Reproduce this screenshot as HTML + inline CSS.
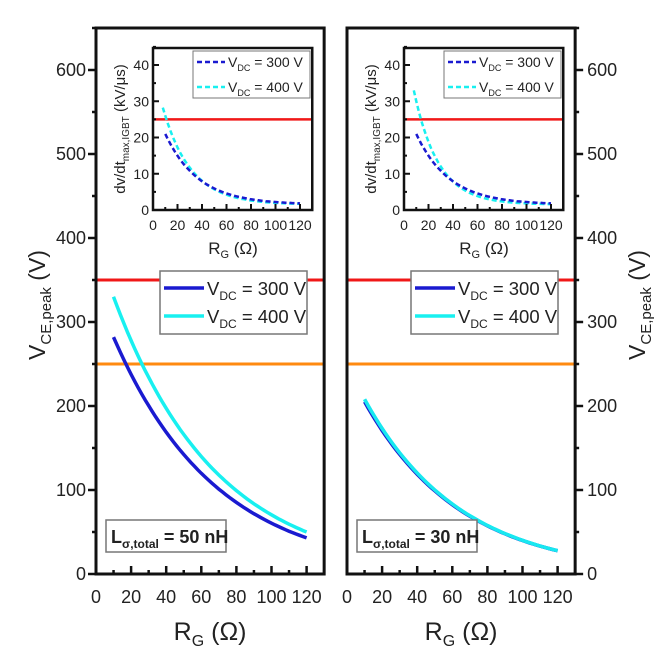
<!DOCTYPE html>
<html><head><meta charset="utf-8"><style>body{margin:0;background:#fff}svg{display:block}text{font-family:"Liberation Sans",sans-serif;fill:#222}</style></head><body>
<svg id="s" width="666" height="655" xmlns="http://www.w3.org/2000/svg"></svg>
<script>
const S=document.getElementById('s');let h='';
function line(x1,y1,x2,y2,c,w,d){h+=`<line x1="${x1}" y1="${y1}" x2="${x2}" y2="${y2}" stroke="${c}" stroke-width="${w}" ${d?`stroke-dasharray="${d}"`:''}/>`;}
function txt(x,y,s,sz,a,extra){h+=`<text x="${x}" y="${y}" font-size="${sz}" text-anchor="${a||'middle'}" ${extra||''}>${s}</text>`;}
function panel(x0,rightAxis,c3,c4,lab){
 const X=v=>x0+v*1.755, Y=v=>574-v*0.84, x1=X(130);
 line(x0,Y(350),x1,Y(350),'#f01818',3);line(x0,Y(250),x1,Y(250),'#ff8a10',3);
 const cur=(f,c)=>{let p='';for(let v=10;v<=120;v+=2)p+=(v==10?'M':'L')+X(v).toFixed(1)+','+Y(f(v)).toFixed(1);h+=`<path d="${p}" fill="none" stroke="${c}" stroke-width="3.5"/>`;};
 cur(c4,'#18f0f0');cur(c3,'#1a1ad0');
 if(lab=='30')cur(c4,'#18e8f0');
 h+=`<rect x="${x0}" y="28" width="${x1-x0}" height="546" fill="none" stroke="#111" stroke-width="3"/>`;
 for(let v=0;v<=130;v+=10){line(X(v),574,X(v),574-(v%20?4:8),'#111',2.5);}
 for(let v=20;v<=120;v+=20)txt(X(v),603,v,18);txt(X(0),603,0,18);
 const ax=rightAxis?x1:x0, dir=rightAxis?1:-1;
 for(let v=0;v<=650;v+=50){line(ax,Y(v),ax+dir*(v%100?4:8),Y(v),'#111',2.5);}
 for(let v=0;v<=600;v+=100)txt(rightAxis?ax+12:ax-10,Y(v)+6,v,18,rightAxis?'start':'end');
 h+=`<text x="${(x0+x1)/2}" y="640" font-size="25" text-anchor="middle">R<tspan font-size="16" dy="6">G</tspan><tspan dy="-6"> (Ω)</tspan></text>`;
 h+=`<rect x="${x0+64}" y="271" width="147" height="63" fill="#fff" stroke="#777" stroke-width="1.5"/>`;
 line(x0+68,288,x0+108,288,'#1a1ad0',3.5);line(x0+68,316,x0+108,316,'#18f0f0',3.5);
 h+=`<text x="${x0+111}" y="295" font-size="18.5" text-anchor="start">V<tspan font-size="12" dy="5">DC</tspan><tspan dy="-5"> = 300 V</tspan></text>`;
 h+=`<text x="${x0+111}" y="323" font-size="18.5" text-anchor="start">V<tspan font-size="12" dy="5">DC</tspan><tspan dy="-5"> = 400 V</tspan></text>`;
 h+=`<rect x="${x0+10}" y="520" width="120" height="32" fill="#fff" stroke="#777" stroke-width="1.5"/>`;
 h+=`<text x="${x0+15}" y="543" font-size="18" font-weight="bold" text-anchor="start">L<tspan font-size="12" dy="5">σ,total</tspan><tspan dy="-5"> = ${lab} nH</tspan></text>`;
}
function inset(bx,a3,a4){
 const X=v=>bx+v*1.225, Y=v=>210-v*3.625, x1=X(130);
 line(bx,Y(25),x1,Y(25),'#f01818',2.5);
 const cur=(f,c,s)=>{let p='';for(let v=s;v<=120;v+=2)p+=(v==s?'M':'L')+X(v).toFixed(1)+','+Y(f(v)).toFixed(1);h+=`<path d="${p}" fill="none" stroke="${c}" stroke-width="2.5" stroke-dasharray="5,3"/>`;};
 cur(v=>a4*Math.exp(-(v-10)*(a4>27?0.05:0.044))+1.5,'#18f0f0',8);
 cur(v=>a3*Math.exp(-(v-10)*0.037)+1.5,'#1a1ad0',10);
 h+=`<rect x="${bx}" y="48" width="${x1-bx}" height="162" fill="none" stroke="#111" stroke-width="2.5"/>`;
 for(let v=0;v<=130;v+=10)line(X(v),210,X(v),210-(v%20?3:6),'#111',2);
 for(let v=0;v<=120;v+=20)txt(X(v),230,v,14);
 for(let v=0;v<=45;v+=5)line(bx,Y(v),bx+(v%10?3:6),Y(v),'#111',2);
 for(let v=0;v<=40;v+=10)txt(bx-4,Y(v)+5,v,14,'end');
 h+=`<text x="${bx+80}" y="254" font-size="17" text-anchor="middle">R<tspan font-size="11" dy="4">G</tspan><tspan dy="-4"> (Ω)</tspan></text>`;
 h+=`<text transform="translate(${bx-28},129) rotate(-90)" font-size="15" text-anchor="middle">dv/dt<tspan font-size="10" dy="4">max,IGBT</tspan><tspan dy="-4"> (kV/μs)</tspan></text>`;
 h+=`<rect x="${bx+40}" y="51" width="117" height="47" fill="#fff" stroke="#777" stroke-width="1"/>`;
 line(bx+44,62,bx+72,62,'#1a1ad0',2.5,'5,3');line(bx+44,87,bx+72,87,'#18f0f0',2.5,'5,3');
 h+=`<text x="${bx+75}" y="67" font-size="14" text-anchor="start">V<tspan font-size="9" dy="4">DC</tspan><tspan dy="-4"> = 300 V</tspan></text>`;
 h+=`<text x="${bx+75}" y="92" font-size="14" text-anchor="start">V<tspan font-size="9" dy="4">DC</tspan><tspan dy="-4"> = 400 V</tspan></text>`;
}
panel(96,false,v=>282*Math.exp(-0.0171*(v-10)),v=>330*Math.exp(-0.01716*(v-10)),'50');
panel(347,true,v=>205*Math.exp(-0.0182*(v-10)),v=>208*Math.exp(-0.0183*(v-10)),'30');
inset(153,19.5,24.5);inset(404,19.5,28.5);
h+=`<text transform="translate(45,305) rotate(-90)" font-size="23" text-anchor="middle">V<tspan font-size="15" dy="6">CE,peak</tspan><tspan dy="-6"> (V)</tspan></text>`;
h+=`<text transform="translate(645,305) rotate(-90)" font-size="23" text-anchor="middle">V<tspan font-size="15" dy="6">CE,peak</tspan><tspan dy="-6"> (V)</tspan></text>`;
S.innerHTML=h;
</script>
</body></html>
